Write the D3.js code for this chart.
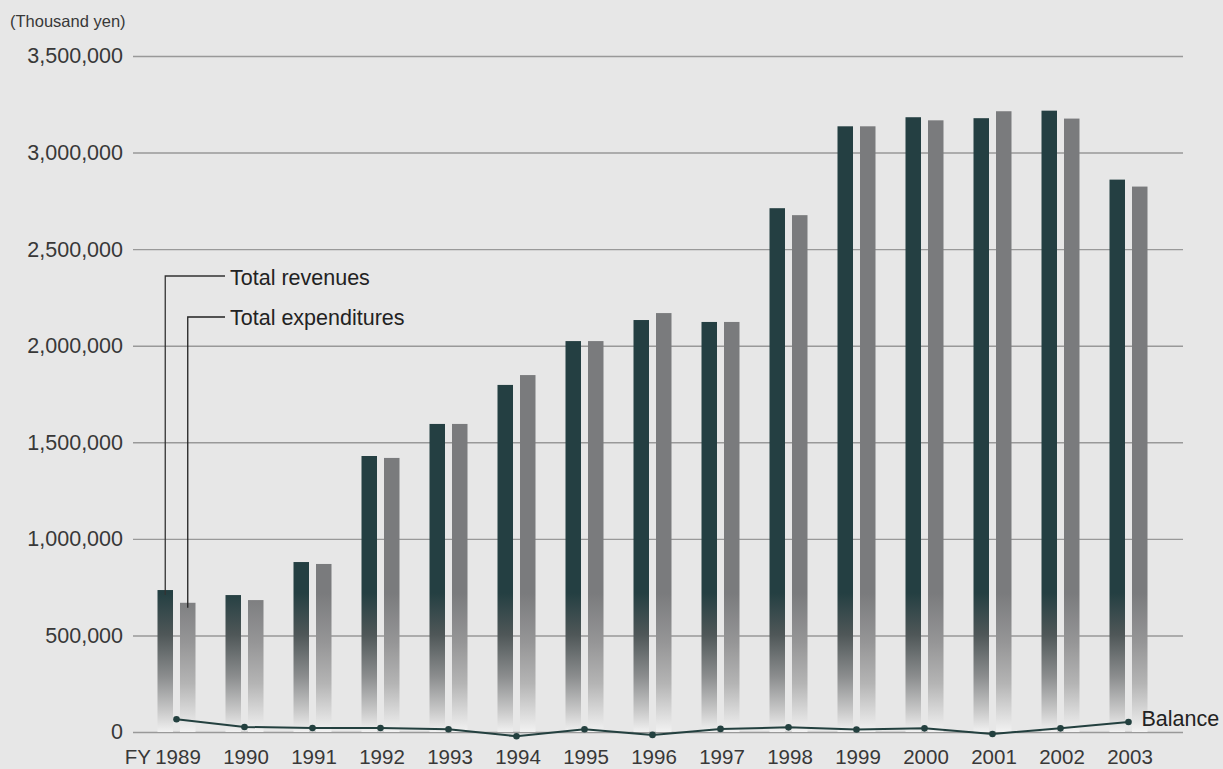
<!DOCTYPE html>
<html>
<head>
<meta charset="utf-8">
<script src="https://cdn.jsdelivr.net/npm/d3@7"></script>
<style>
  body { margin: 0; background: #e7e7e7; }
  svg { display: block; font-family: "Liberation Sans", Arial, sans-serif; }
</style>
</head>
<body>
<script>
// data (thousand yen)
const years = ["1989","1990","1991","1992","1993","1994","1995","1996","1997","1998","1999","2000","2001","2002","2003"];
const revenues = [735000, 709000, 880000, 1429000, 1595000, 1797000, 2024000, 2133000, 2123000, 2712000, 3136000, 3183000, 3178000, 3217000, 2860000];
const expenditures = [669000, 683000, 870000, 1419000, 1595000, 1848000, 2024000, 2169000, 2123000, 2676000, 3136000, 3167000, 3214000, 3176000, 2824000];
const balance = [66000, 26000, 21000, 21000, 14000, -22000, 14000, -15000, 16000, 24000, 13000, 19000, -10000, 19000, 52000];
const yTicks = [0, 500000, 1000000, 1500000, 2000000, 2500000, 3000000, 3500000];

const W = 1223, H = 769;
const left = 133, right = 1183;

const svg = d3.select("body").append("svg")
    .attr("width", W)
    .attr("height", H);

svg.append("rect").attr("width", W).attr("height", H).attr("fill", "#e7e7e7");

var y = d3.scaleLinear()
    .domain([0, 3500000])
    .range([732, 56]);

var x = d3.scaleBand()
    .domain(years)
    .range([142.5, 1162.5]);

var x1 = d3.scaleBand()
    .domain(["rev", "exp"])
    .range([15, 53])
    .paddingInner(0.311);

// gradients, fixed to the plot so every bar fades the same way
var defs = svg.append("defs");
function grad(id, stops) {
  var g = defs.append("linearGradient")
      .attr("id", id)
      .attr("gradientUnits", "userSpaceOnUse")
      .attr("x1", 0).attr("x2", 0)
      .attr("y1", y(720000)).attr("y2", y(0));
  stops.forEach(s => g.append("stop").attr("offset", s[0]).attr("stop-color", s[1]));
}
grad("gRev", [[0, "#243f42"], [0.3, "#4f5758"], [0.6, "#8b8d8e"], [0.85, "#c9c9c9"], [1, "#f1f1f1"]]);
grad("gExp", [[0, "#7a7b7d"], [0.35, "#959596"], [0.65, "#b4b4b4"], [1, "#f2f2f2"]]);

// y axis + gridlines
var yAxis = svg.append("g")
    .attr("transform", "translate(" + left + ",0)")
    .call(d3.axisLeft(y)
        .tickValues(yTicks)
        .tickSize(-(right - left))
        .tickPadding(10)
        .tickFormat(d3.format(",")));
yAxis.select(".domain").remove();
yAxis.selectAll(".tick line").attr("stroke", "#999").attr("stroke-width", 1.4);
yAxis.selectAll(".tick text")
    .attr("fill", "#383838")
    .attr("font-size", "21.5px")
    .attr("font-family", "Liberation Sans, Arial, sans-serif");

svg.append("text")
    .attr("x", 10).attr("y", 27)
    .attr("font-size", "16.5px")
    .attr("fill", "#383838")
    .text("(Thousand yen)");

// bars
var groups = svg.append("g").selectAll("g")
    .data(years)
    .enter().append("g")
    .attr("transform", d => "translate(" + x(d) + ",0)");

groups.append("rect")
    .attr("x", x1("rev"))
    .attr("width", x1.bandwidth())
    .attr("y", (d, i) => y(revenues[i]))
    .attr("height", (d, i) => y(0) - y(revenues[i]))
    .attr("fill", "url(#gRev)");

groups.append("rect")
    .attr("x", x1("exp"))
    .attr("width", x1.bandwidth())
    .attr("y", (d, i) => y(expenditures[i]))
    .attr("height", (d, i) => y(0) - y(expenditures[i]))
    .attr("fill", "url(#gExp)");

// x labels
var cx = d => x(d) + x.bandwidth() / 2;
svg.append("g").selectAll("text")
    .data(years)
    .enter().append("text")
    .attr("x", d => cx(d) + 1.5)
    .attr("y", 764)
    .attr("text-anchor", "middle")
    .attr("font-size", "20.5px")
    .attr("fill", "#383838")
    .text(d => d);
svg.append("text")
    .attr("x", 151).attr("y", 764)
    .attr("text-anchor", "end")
    .attr("font-size", "20.5px")
    .attr("fill", "#383838")
    .text("FY");

// balance line
var line = d3.line()
    .x((d, i) => cx(years[i]))
    .y(d => y(d));
svg.append("path")
    .datum(balance)
    .attr("d", line)
    .attr("fill", "none")
    .attr("stroke", "#23403f")
    .attr("stroke-width", 2);
svg.append("g").selectAll("circle")
    .data(balance)
    .enter().append("circle")
    .attr("cx", (d, i) => cx(years[i]))
    .attr("cy", d => y(d))
    .attr("r", 3.3)
    .attr("fill", "#23403f");
svg.append("text")
    .attr("x", cx(years[years.length - 1]) + 13)
    .attr("y", y(balance[balance.length - 1]) + 4)
    .attr("font-size", "21.5px")
    .attr("fill", "#222")
    .text("Balance");

// callouts
var revX = x(years[0]) + x1("rev") + x1.bandwidth() / 2;
var expX = x(years[0]) + x1("exp") + x1.bandwidth() / 2;
svg.append("path")
    .attr("d", "M" + revX + "," + (y(revenues[0]) + 5) + "V276H225")
    .attr("fill", "none").attr("stroke", "#333").attr("stroke-width", 1.3);
svg.append("path")
    .attr("d", "M" + expX + "," + (y(expenditures[0]) + 5) + "V317H225")
    .attr("fill", "none").attr("stroke", "#222").attr("stroke-width", 1.3);
svg.append("text")
    .attr("x", 230).attr("y", 285)
    .attr("font-size", "21.5px")
    .attr("fill", "#222")
    .text("Total revenues");
svg.append("text")
    .attr("x", 230).attr("y", 325)
    .attr("font-size", "21.5px")
    .attr("fill", "#222")
    .text("Total expenditures");
</script>
</body>
</html>
